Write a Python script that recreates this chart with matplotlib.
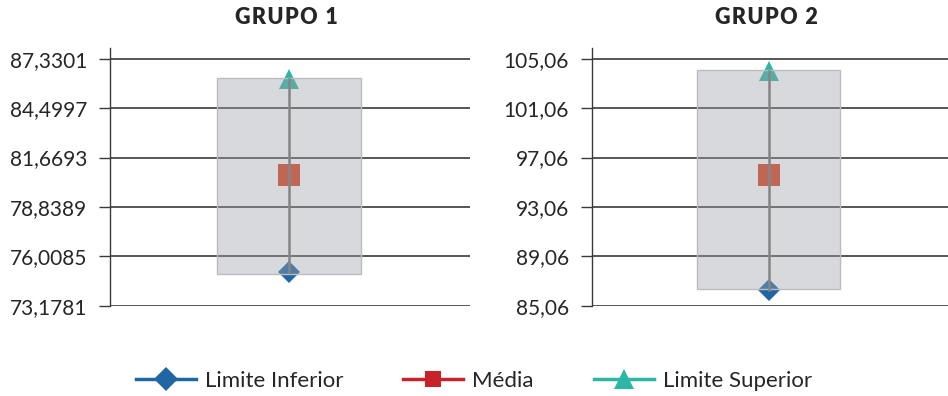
import matplotlib
matplotlib.use("Agg")
import matplotlib.pyplot as plt
from matplotlib.lines import Line2D
from matplotlib.patches import Rectangle

# Summary values per group
groups = ["GRUPO 1", "GRUPO 2"]
lower = [75.13, 86.33]
mean = [80.65, 95.62]
upper = [86.19, 104.10]
band_low = [75.00, 86.39]
band_high = [86.23, 104.13]

# Y tick values per group
ticks_g1 = [73.1781, 76.0085, 78.8389, 81.6693, 84.4997, 87.3301]
ticks_g2 = [85.06, 89.06, 93.06, 97.06, 101.06, 105.06]
tick_sets = [ticks_g1, ticks_g2]
tick_decimals = [4, 2]

series_names = ["Limite Inferior", "Média", "Limite Superior"]
c_low = "#1f66a3"
c_mean_mark = "#d6401f"
c_mean_leg = "#c8232b"
c_up = "#2db5a5"

plt.rcParams["font.family"] = ["Lato", "DejaVu Sans"]

fig = plt.figure(figsize=(9.48, 3.96), dpi=100)
axes_rects = [
    [110 / 948, 90.3 / 396, 360 / 948, 258 / 396],
    [592 / 948, 90.3 / 396, 356 / 948, 258 / 396],
]

xc = 0.496
half_w = 0.2

for i, rect in enumerate(axes_rects):
    ax = fig.add_axes(rect)
    ticks = tick_sets[i]
    step = ticks[1] - ticks[0]
    ax.set_ylim(ticks[0], ticks[-1] + step * 11 / 49.3)
    ax.set_xlim(0, 1)
    ax.set_yticks(ticks)
    ax.set_yticklabels([f"{t:.{tick_decimals[i]}f}".replace(".", ",") for t in ticks])
    ax.set_xticks([])
    for s in ["top", "right", "bottom"]:
        ax.spines[s].set_visible(False)
    ax.spines["left"].set_color("#3a3a3a")
    ax.spines["left"].set_linewidth(1.0)
    ax.tick_params(axis="y", length=8, width=1.0, color="#3a3a3a",
                   labelsize=15, labelcolor="#262626", pad=8.5)
    for t in ticks:
        ax.axhline(t, color="#3a3a3a", lw=1.2, zorder=1)

    ax.plot([xc], [lower[i]], marker="D", ms=11.5, mew=0, color=c_low, zorder=3)
    ax.plot([xc], [mean[i]], marker="s", ms=16.5, mew=0, color=c_mean_mark, zorder=3)
    ax.plot([xc], [upper[i]], marker="^", ms=14.5, mew=0, color=c_up, zorder=3)

    ax.add_patch(Rectangle((xc - half_w, band_low[i]), 2 * half_w,
                           band_high[i] - band_low[i],
                           facecolor="#9ea0a8", alpha=0.4, edgecolor="none",
                           zorder=4))
    ax.add_patch(Rectangle((xc - half_w, band_low[i]), 2 * half_w,
                           band_high[i] - band_low[i],
                           facecolor="none", edgecolor="#bcbcc0", lw=1.0,
                           zorder=4))
    ax.plot([xc, xc], [lower[i], upper[i]], color="#858585", lw=1.8, zorder=5)

    ax.set_title("\u200a".join(groups[i]), fontsize=15.5, fontweight="heavy",
                 color="#262626", pad=17, x=0.49)

handles = [
    Line2D([], [], color=c_low, lw=2.5, marker="D", ms=12, mew=0),
    Line2D([], [], color=c_mean_leg, lw=2.5, marker="s", ms=12, mew=0),
    Line2D([], [], color=c_up, lw=2.5, marker="^", ms=14, mew=0),
]
fig.legend(handles, series_names, loc="center", bbox_to_anchor=(0.5, 15 / 396),
           ncol=3, frameon=False, fontsize=16, handlelength=2.7,
           handletextpad=0.4, columnspacing=2.7, labelcolor="#262626")

fig.savefig("out.png", dpi=100)
